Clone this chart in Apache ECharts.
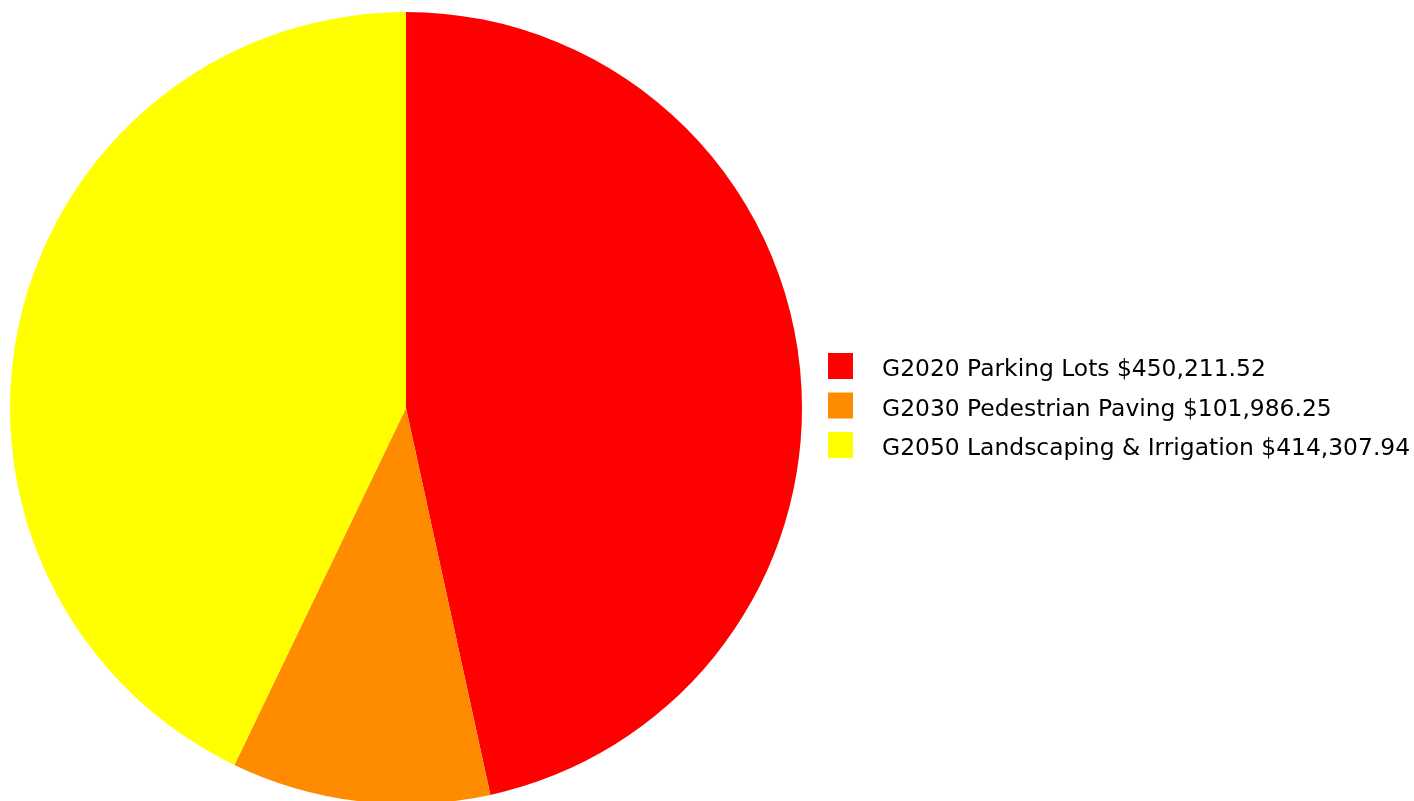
<!DOCTYPE html>
<html>
<head>
<meta charset="utf-8">
<script src="https://cdn.jsdelivr.net/npm/echarts@6/dist/echarts.min.js"></script>
<style>
  html, body { margin: 0; padding: 0; background: #ffffff; }
  #chart { width: 1414px; height: 801px; }
</style>
</head>
<body>
<div id="chart"></div>
<script>
// Cost breakdown by element
const categories = ['G2020 Parking Lots', 'G2030 Pedestrian Paving', 'G2050 Landscaping & Irrigation'];
const amounts = [450211.52, 101986.25, 414307.94];
const colors = ['#ff0000', '#ff8c00', '#ffff00'];

function money(v) {
  return '$' + v.toLocaleString('en-US', { minimumFractionDigits: 2, maximumFractionDigits: 2 });
}

const names = categories.map((c, i) => c + ' ' + money(amounts[i]));

const chart = echarts.init(document.getElementById('chart'), null, { renderer: 'canvas' });
chart.setOption({
  animation: false,
  color: colors,
  legend: {
    orient: 'vertical',
    left: 823,
    top: 348,
    itemWidth: 25,
    itemHeight: 26,
    itemGap: 11,
    icon: 'rect',
    data: names,
    formatter: '{t|{name}}',
    textStyle: {
      rich: {
        t: {
          fontFamily: 'DejaVu Sans',
          fontSize: 23.4,
          color: '#000000',
          padding: [8, 0, 0, 24]
        }
      }
    }
  },
  series: [{
    type: 'pie',
    center: [406, 408],
    radius: 396,
    startAngle: 90,
    clockwise: true,
    label: { show: false },
    labelLine: { show: false },
    emphasis: { disabled: true },
    itemStyle: { borderWidth: 0 },
    data: names.map((n, i) => ({ name: n, value: amounts[i] }))
  }]
});
</script>
</body>
</html>
